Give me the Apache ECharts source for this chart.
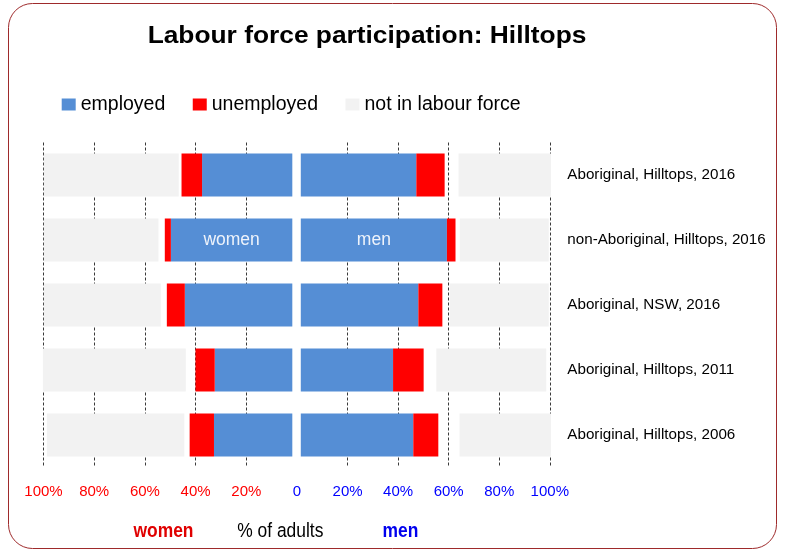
<!DOCTYPE html>
<html>
<head>
<meta charset="utf-8">
<script src="https://cdn.jsdelivr.net/npm/echarts@6/dist/echarts.min.js"></script>
<style>html,body{margin:0;padding:0;background:#fff}#c{width:786px;height:551px}</style>
</head>
<body>
<div id="c"></div>
<script>
var categories = ['Aboriginal, Hilltops, 2016','non-Aboriginal, Hilltops, 2016','Aboriginal, NSW, 2016','Aboriginal, Hilltops, 2011','Aboriginal, Hilltops, 2006'];
var womenEmployed   = [35.6, 47.9, 42.4, 30.6, 30.9];
var womenUnemployed = [8.1, 2.4, 7.1, 7.6, 9.6];
var womenNotStated  = [1.1, 2.5, 2.4, 3.8, 2.1];
var womenNotInLF    = [53.2, 45.2, 46.1, 56.4, 54.2];
var menEmployed     = [45.7, 57.8, 46.5, 36.5, 44.5];
var menUnemployed   = [11.2, 3.4, 9.5, 12.1, 9.9];
var menNotStated    = [5.5, 1.7, 2.9, 5.0, 8.4];
var menNotInLF      = [36.6, 35.2, 39.2, 43.5, 36.2];
var legendNames = ['employed','unemployed','not in labour force'];

var FONT = 'Liberation Sans, Arial, sans-serif';
var BLUE = '#558ed5', RED = '#ff0000', GREY = '#f2f2f2';
var W_GAP = 1.85, M_GAP = 1.5; // visual offset from the centre line (style)
var BAR_W = 43;

function fill(n, v){ var a=[]; for(var i=0;i<n;i++) a.push(v); return a; }

function sideSeries(idx, stack, gap, emp, unemp, ns, nilf, innerLabel){
  var empData = emp.map(function(v,i){
    if (i === 1) return {value:v, label:{show:true, position:'inside', formatter: innerLabel, color:'#eef3fb', fontSize:17.5, fontFamily:FONT}};
    return v;
  });
  var base = {xAxisIndex: idx, yAxisIndex: idx, stack: stack, type:'bar', barWidth: BAR_W, clip:false, silent:true};
  return [
    Object.assign({}, base, {name:'spacer'+idx, data: fill(categories.length, gap), itemStyle:{color:'rgba(0,0,0,0)'}}),
    Object.assign({}, base, {name:legendNames[0], data: empData, itemStyle:{color:BLUE}}),
    Object.assign({}, base, {name:legendNames[1], data: unemp, itemStyle:{color:RED}}),
    Object.assign({}, base, {name:'not stated'+idx, data: ns, itemStyle:{color:'rgba(0,0,0,0)'}}),
    Object.assign({}, base, {name:legendNames[2], data: nilf, itemStyle:{color:GREY}})
  ];
}

var splitLine = {show:true, showMinLine:false, lineStyle:{color:'#3a3a3a', type:[3,2], width:1}};

var option = {
  animation:false,
  textStyle:{fontFamily:FONT},
  legend:{
    data:legendNames,
    left:56.7, top:89.5, icon:'rect', itemWidth:14, itemHeight:12, itemGap:27.5,
    textStyle:{fontFamily:FONT, fontSize:19.5, color:'#000'},
    selectedMode:false
  },
  grid:[
    {left:43.5, right:489, top:142.5, height:325, outerBoundsMode:'none', containLabel:false},
    {left:297, right:236.2, top:142.5, height:325, outerBoundsMode:'none', containLabel:false}
  ],
  xAxis:[
    {gridIndex:0, type:'value', inverse:true, min:0, max:100, interval:20,
     axisLine:{show:false}, axisTick:{show:false}, splitLine:splitLine,
     axisLabel:{margin:16.5, color:RED, fontSize:15, fontFamily:FONT,
       formatter:function(v){ return v===0 ? '' : v+'%'; }}},
    {gridIndex:1, type:'value', min:0, max:100, interval:20,
     axisLine:{show:false}, axisTick:{show:false}, splitLine:splitLine,
     axisLabel:{margin:16.5, color:'#0000ff', fontSize:15, fontFamily:FONT,
       formatter:function(v){ return v===0 ? '0' : v+'%'; }}}
  ],
  yAxis:[
    {gridIndex:0, type:'category', data:categories, inverse:true, show:false},
    {gridIndex:1, type:'category', data:categories, inverse:true, position:'right',
     axisLine:{show:false}, axisTick:{show:false},
     axisLabel:{margin:17.5, color:'#000', fontSize:15.2, fontFamily:FONT}}
  ],
  graphic:[
    {type:'rect', shape:{x:8.5, y:3.5, width:768, height:545, r:24},
     style:{fill:'none', stroke:'#9e2a2b', lineWidth:1}, silent:true, z:-1},
    {type:'text', x:367, y:37, scaleX:1.12, scaleY:1,
     style:{text:'Labour force participation: Hilltops', fill:'#000', font:'bold 23.5px '+FONT, align:'center', verticalAlign:'middle'}},
    {type:'text', x:163.5, y:531, scaleX:0.85,
     style:{text:'women', fill:'#e00000', font:'bold 20.5px '+FONT, align:'center', verticalAlign:'middle'}},
    {type:'text', x:280.3, y:531, scaleX:0.85,
     style:{text:'% of adults', fill:'#000', font:'20.5px '+FONT, align:'center', verticalAlign:'middle'}},
    {type:'text', x:400.5, y:531, scaleX:0.85,
     style:{text:'men', fill:'#0000ee', font:'bold 20.5px '+FONT, align:'center', verticalAlign:'middle'}}
  ],
  series: [].concat(
    sideSeries(0, 'w', W_GAP, womenEmployed, womenUnemployed, womenNotStated, womenNotInLF, 'women'),
    sideSeries(1, 'm', M_GAP, menEmployed, menUnemployed, menNotStated, menNotInLF, 'men')
  )
};
var chart = echarts.init(document.getElementById('c'), null, {renderer:'canvas'});
chart.setOption(option);
</script>
</body>
</html>
